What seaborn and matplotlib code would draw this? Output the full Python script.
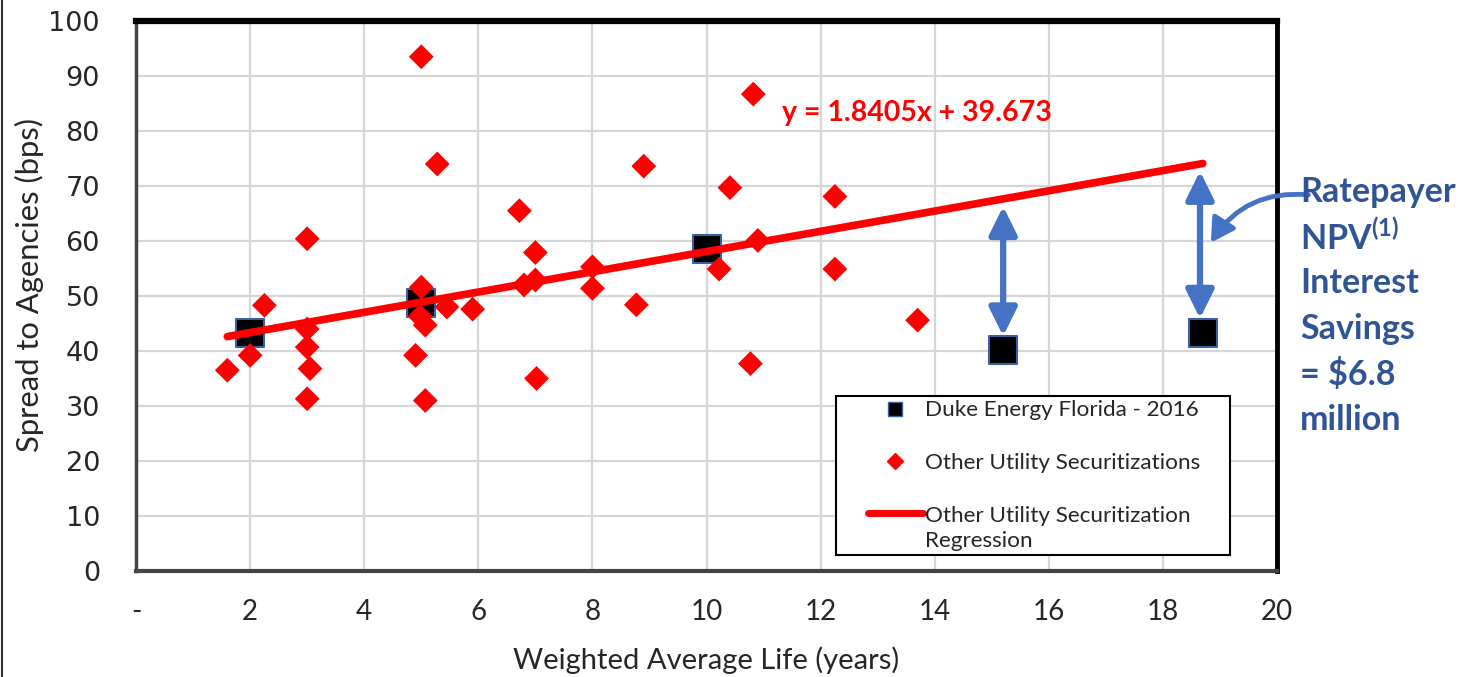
import matplotlib
matplotlib.use("Agg")
import matplotlib.pyplot as plt
from matplotlib import font_manager
from matplotlib.lines import Line2D
from matplotlib.legend_handler import HandlerLine2D
import numpy as np
import seaborn as sns
import pandas as pd

# Duke Energy Florida 2016 tranches: weighted average life (years) vs spread (bps)
duke_wal = [2.0, 5.0, 10.0, 15.2, 18.7]
duke_spread = [43.2, 48.7, 58.5, 40.1, 43.2]

# Other utility securitizations
other_wal = [1.6, 2.0, 2.25, 3.0, 3.0, 3.0, 3.05, 3.0, 4.9, 5.0, 5.0, 4.98,
             5.07, 5.07, 5.28, 5.45, 5.9, 6.72, 6.8, 7.0, 7.0, 7.02, 8.0, 8.0,
             8.77, 8.9, 10.22, 10.41, 10.77, 10.82, 10.9, 12.25, 12.25, 13.7]
other_spread = [36.5, 39.2, 48.3, 60.4, 44.0, 40.7, 36.8, 31.3, 39.2, 93.5, 51.6, 46.3,
                44.7, 31.0, 74.0, 48.0, 47.6, 65.5, 52.0, 57.9, 52.9, 35.0, 55.3, 51.4,
                48.4, 73.6, 54.9, 69.7, 37.7, 86.7, 60.1, 68.1, 54.9, 45.6]

# Regression of the other securitizations
reg_slope = 1.8405
reg_intercept = 39.673
reg_wal_range = [1.6, 18.7]

# Savings gaps (regression vs. DEF long tranches)
savings_wal = [15.2, 18.65]
savings_low = [42.7, 45.9]
savings_high = [66.3, 72.7]

x_ticks = [0, 2, 4, 6, 8, 10, 12, 14, 16, 18, 20]
x_tick_labels = ["-", "2", "4", "6", "8", "10", "12", "14", "16", "18", "20"]
y_ticks = [0, 10, 20, 30, 40, 50, 60, 70, 80, 90, 100]

legend_labels = ["Duke Energy Florida - 2016",
                 "Other Utility Securitizations",
                 "Other Utility Securitization\nRegression"]
callout_lines = ["Ratepayer", "NPV$^{(1)}$", "Interest", "Savings", "= $6.8", "million"]

RED = "#FF0000"
BLUE = "#4472C4"
TEXT_BLUE = "#2F5597"


class OffsetLineHandler(HandlerLine2D):
    """Legend handle drawn on the right part of the handle box, optionally raised."""

    def __init__(self, x0_frac=0.0, dy=0.0, **kw):
        super().__init__(**kw)
        self.x0_frac = x0_frac
        self.dy = dy

    def create_artists(self, legend, orig_handle, xdescent, ydescent, width, height,
                       fontsize, trans):
        x0 = width * self.x0_frac
        artists = super().create_artists(legend, orig_handle, xdescent - x0, ydescent,
                                         width - x0, height, fontsize, trans)
        for a in artists:
            a.set_ydata(np.asarray(a.get_ydata(), dtype=float) + self.dy)
        return artists


sns.set_style("white")
plt.rcParams["font.family"] = ["Lato", "DejaVu Sans"]
plt.rcParams["mathtext.fontset"] = "custom"
plt.rcParams["mathtext.rm"] = "Lato:bold"
plt.rcParams["mathtext.it"] = "Lato:bold"
plt.rcParams["mathtext.bf"] = "Lato:bold"

installed = {f.name for f in font_manager.fontManager.ttflist}
narrow = next((n for n in ["Liberation Sans Narrow", "DejaVu Sans Condensed"] if n in installed), "Lato")

fig = plt.figure(figsize=(14.69, 6.77), dpi=100)
ax = fig.add_axes([0.0926, 0.1566, 0.7767, 0.8124])

duke_df = pd.DataFrame({"wal": duke_wal, "spread": duke_spread})
other_df = pd.DataFrame({"wal": other_wal, "spread": other_spread})
reg_df = pd.DataFrame({"wal": reg_wal_range})
reg_df["spread"] = reg_slope * reg_df["wal"] + reg_intercept

sns.scatterplot(data=duke_df, x="wal", y="spread", marker="s", s=430, color="#000000",
                edgecolor="#3B5FA6", linewidth=1.5, ax=ax, zorder=3, legend=False)
sns.lineplot(data=reg_df, x="wal", y="spread", color=RED, linewidth=5.5, ax=ax,
             zorder=4, solid_capstyle="round", legend=False)
sns.scatterplot(data=other_df, x="wal", y="spread", marker="D", s=160, color=RED,
                edgecolor="none", linewidth=0, ax=ax, zorder=5, legend=False)

# double-headed arrows marking the spread savings
for xw, lo, hi in zip(savings_wal, savings_low, savings_high):
    ax.annotate("", xy=(xw, lo), xytext=(xw, hi),
                arrowprops=dict(arrowstyle="<|-|>,head_length=0.85,head_width=0.42",
                                color=BLUE, lw=4.5, mutation_scale=20,
                                shrinkA=0, shrinkB=0), zorder=6)

# curved pointer from the callout to the long-tranche gap
ax.annotate("", xy=(18.84, 59.7), xytext=(20.55, 68.4), annotation_clip=False,
            arrowprops=dict(arrowstyle="-|>,head_length=0.7,head_width=0.4",
                            color=BLUE, lw=3.5, mutation_scale=20,
                            connectionstyle="arc3,rad=0.3", shrinkA=0, shrinkB=0),
            zorder=7)

ax.text(11.32, 83.2, f"y = {reg_slope}x + {reg_intercept}", color=RED,
        fontsize=20.5, fontweight="bold", va="center", ha="left", zorder=6)

ax.set_xlim(0, 20)
ax.set_ylim(0, 100)
ax.set_xticks(x_ticks)
ax.set_xticklabels(x_tick_labels, fontsize=20, family=[narrow, "Lato"])
ax.set_yticks(y_ticks)
ax.set_yticklabels([str(v) for v in y_ticks], fontsize=19.5, family=["DejaVu Sans"])
ax.tick_params(axis="x", length=0, pad=20)
ax.tick_params(axis="y", length=0, pad=26)

ax.grid(True, color="#d6d6d6", linewidth=1.6)
ax.set_axisbelow(True)

for side, lw, col in [("top", 4.5, "#000000"), ("right", 3.5, "#000000"),
                      ("left", 2.5, "#444444"), ("bottom", 3.0, "#444444")]:
    ax.spines[side].set_visible(True)
    ax.spines[side].set_linewidth(lw)
    ax.spines[side].set_color(col)

ax.set_xlabel("Weighted Average Life (years)", fontsize=21, va="center")
ax.xaxis.set_label_coords(0.5, -0.162)
ax.set_ylabel("Spread to Agencies (bps)", fontsize=22.3, va="center")
ax.yaxis.set_label_coords(-0.093, 0.52)

square_handle = Line2D([], [], marker="s", linestyle="none", markerfacecolor="#000000",
                       markeredgecolor="#3B5FA6", markersize=10)
diamond_handle = Line2D([], [], marker="D", linestyle="none", color=RED, markersize=8.5)
line_handle = Line2D([], [], color=RED, linewidth=5, solid_capstyle="round")
legend_fs = 16.2
leg = ax.legend([square_handle, diamond_handle, line_handle], legend_labels,
                loc="lower left", bbox_to_anchor=(0.6135, 0.029, 0.3453, 0.29),
                mode="expand", frameon=True, fancybox=False, edgecolor="#000000",
                framealpha=1, fontsize=legend_fs, labelspacing=1.45, handlelength=3.65,
                handletextpad=0.1, borderpad=0.2, borderaxespad=0,
                handler_map={
                    square_handle: OffsetLineHandler(x0_frac=0.33),
                    diamond_handle: OffsetLineHandler(x0_frac=0.33),
                    line_handle: OffsetLineHandler(x0_frac=0.33, dy=legend_fs * 0.7),
                })
leg.get_frame().set_linewidth(1.5)
leg.get_texts()[2].set_linespacing(1.3)
leg.set_zorder(8)

for i, line in enumerate(callout_lines):
    fig.text(0.885, 1 - (192 + i * 45.6) / 677, line, color=TEXT_BLUE, fontsize=24.5,
             fontweight="bold", ha="left", va="center")

fig.add_artist(Line2D([0.0012, 0.0012], [0, 1], transform=fig.transFigure,
                      color="#333333", linewidth=1.5))

fig.savefig("out.png", dpi=100)
